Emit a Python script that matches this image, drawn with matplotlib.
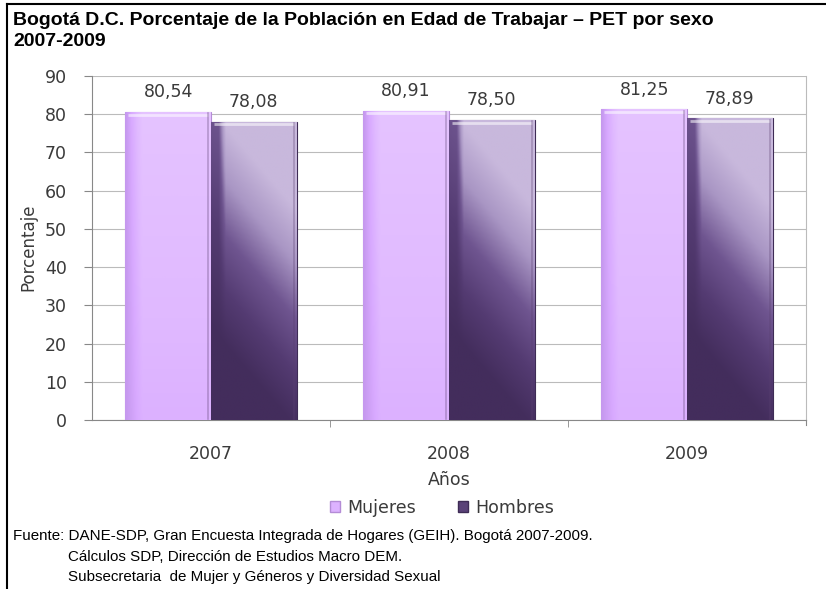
import matplotlib
matplotlib.use("Agg")
import matplotlib.pyplot as plt
import numpy as np
from matplotlib.colors import LinearSegmentedColormap
from matplotlib.patches import Patch

years = ["2007", "2008", "2009"]
mujeres = [80.54, 80.91, 81.25]
hombres = [78.08, 78.50, 78.89]
mujeres_labels = ["80,54", "80,91", "81,25"]
hombres_labels = ["78,08", "78,50", "78,89"]
yticks = [0, 10, 20, 30, 40, 50, 60, 70, 80, 90]

title = "Bogotá D.C. Porcentaje de la Población en Edad de Trabajar – PET por sexo\n2007-2009"
source_lines = [
    "Fuente: DANE-SDP, Gran Encuesta Integrada de Hogares (GEIH). Bogotá 2007-2009.",
    "Cálculos SDP, Dirección de Estudios Macro DEM.",
    "Subsecretaria  de Mujer y Géneros y Diversidad Sexual",
]

fig = plt.figure(figsize=(8.26, 5.89), dpi=100)
W, H = 826, 589
ax = fig.add_axes([92 / W, 1 - 420 / H, 714 / W, 344 / H])

x = np.arange(len(years))
bw = 0.36
tf = "DejaVu Sans"
tcol = "#3A3A3A"

bm = ax.bar(x - bw / 2, mujeres, bw, color="#E0B8FF", edgecolor="#B48CD6", linewidth=0.8, zorder=3)
bh = ax.bar(x + bw / 2, hombres, bw, color="#6A5088", edgecolor="#3E2C55", linewidth=0.8, zorder=3)

# gradient fills clipped to bars
ny, nx = 200, 60
yy, xx = np.mgrid[0:1:ny * 1j, 0:1:nx * 1j]
cm_m = LinearSegmentedColormap.from_list("m", ["#C598EE", "#D8A9FF", "#E0B9FF", "#E5C3FF"])
gm = np.clip(xx * 5, 0, 1) * (0.5 + 0.5 * yy)
cm_h = LinearSegmentedColormap.from_list("h", ["#432D5C", "#543B72", "#6F5590", "#A996C4", "#C8B8DC"])
gh = np.clip((yy - 0.3) * 1.35 + 0.45 * xx, 0, 1)
gh = gh * np.clip(xx * 6, 0.5, 1)

for rect in bm:
    x0, w, h = rect.get_x(), rect.get_width(), rect.get_height()
    im = ax.imshow(gm, extent=[x0, x0 + w, 0, h], origin="lower", cmap=cm_m, vmin=0, vmax=1,
                   aspect="auto", zorder=3.5, interpolation="bilinear")
    im.set_clip_path(rect)
for rect in bh:
    x0, w, h = rect.get_x(), rect.get_width(), rect.get_height()
    im = ax.imshow(gh, extent=[x0, x0 + w, 0, h], origin="lower", cmap=cm_h, vmin=0, vmax=1,
                   aspect="auto", zorder=3.5, interpolation="bilinear")
    im.set_clip_path(rect)
for rect in list(bm) + list(bh):
    x0, w, h = rect.get_x(), rect.get_width(), rect.get_height()
    ax.plot([x0 + 0.03 * w, x0 + 0.97 * w], [h - 0.7, h - 0.7], color="white", alpha=0.55, lw=2.0,
            zorder=4, solid_capstyle="butt")
    ax.plot([x0 + w - 0.012, x0 + w - 0.012], [0.3, h - 0.3], color="#5A4070", alpha=0.35, lw=1.2, zorder=4)

for xi, v, lab in zip(x - bw / 2, mujeres, mujeres_labels):
    ax.text(xi, v + 2.8, lab, ha="center", va="bottom", fontsize=12.5, family=tf, color=tcol)
for xi, v, lab in zip(x + bw / 2, hombres, hombres_labels):
    ax.text(xi, v + 2.8, lab, ha="center", va="bottom", fontsize=12.5, family=tf, color=tcol)

ax.set_xlim(-0.5, 2.5)
ax.set_ylim(0, 90)
ax.set_yticks(yticks)
ax.set_yticklabels([str(t) for t in yticks], family=tf, fontsize=12.5, color=tcol)
ax.set_xticks([0.5, 1.5], minor=True)
ax.set_xticks(x)
ax.set_xticklabels(years, family=tf, fontsize=12.5, color=tcol)
ax.tick_params(axis="x", which="major", length=0, pad=18)
ax.tick_params(axis="x", which="minor", length=5, color="#888888")
ax.tick_params(axis="y", length=6, color="#888888", pad=12)
ax.grid(axis="y", color="#BBBBBB", linewidth=0.8, zorder=0)
for s in ["top", "right"]:
    ax.spines[s].set_visible(False)
ax.spines["left"].set_color("#888888")
ax.spines["bottom"].set_color("#888888")
ax.plot([2.5, 2.5], [0, 90], color="#BBBBBB", lw=0.8, zorder=1, clip_on=False)
ax.plot([2.5, 2.5], [0, -1.3], color="#888888", lw=0.8, zorder=1, clip_on=False)
ax.set_ylabel("Porcentaje", family=tf, fontsize=12, color=tcol)
ax.yaxis.set_label_coords((28 - 92) / 714, (420 - 247) / 344)
ax.yaxis.label.set_va("center")
ax.set_xlabel("Años", family=tf, fontsize=12.5, color=tcol, labelpad=6)

handles = [Patch(facecolor="#DDB2FF", edgecolor="#B48CD6"), Patch(facecolor="#5A4278", edgecolor="#3E2C55")]
leg = fig.legend(handles, ["Mujeres", "Hombres"], loc="center", bbox_to_anchor=(442 / W, 1 - 508 / H),
                 ncol=2, frameon=False, prop={"family": tf, "size": 12.5},
                 handlelength=0.6, handleheight=0.6, handletextpad=0.4, columnspacing=2.4)
for t in leg.get_texts():
    t.set_color(tcol)

fig.text(13 / W, 1 - 12 / H, title, ha="left", va="top", fontsize=14, fontweight="bold",
         family="Liberation Sans", linespacing=1.3)

fs = 10.9
fig.text(13 / W, 1 - 536 / H, source_lines[0], ha="left", va="center", fontsize=fs, family="Liberation Sans")
fig.text(68 / W, 1 - 557 / H, source_lines[1], ha="left", va="center", fontsize=fs, family="Liberation Sans")
fig.text(68 / W, 1 - 577 / H, source_lines[2], ha="left", va="center", fontsize=fs, family="Liberation Sans")

# frame lines (top and left)
fig.add_artist(plt.Line2D([7.5 / W, 1], [1 - 3.5 / H, 1 - 3.5 / H], color="black", lw=1.5, transform=fig.transFigure))
fig.add_artist(plt.Line2D([7.5 / W, 7.5 / W], [0, 1 - 3.5 / H], color="black", lw=1.5, transform=fig.transFigure))

fig.savefig("out.png", dpi=100)
